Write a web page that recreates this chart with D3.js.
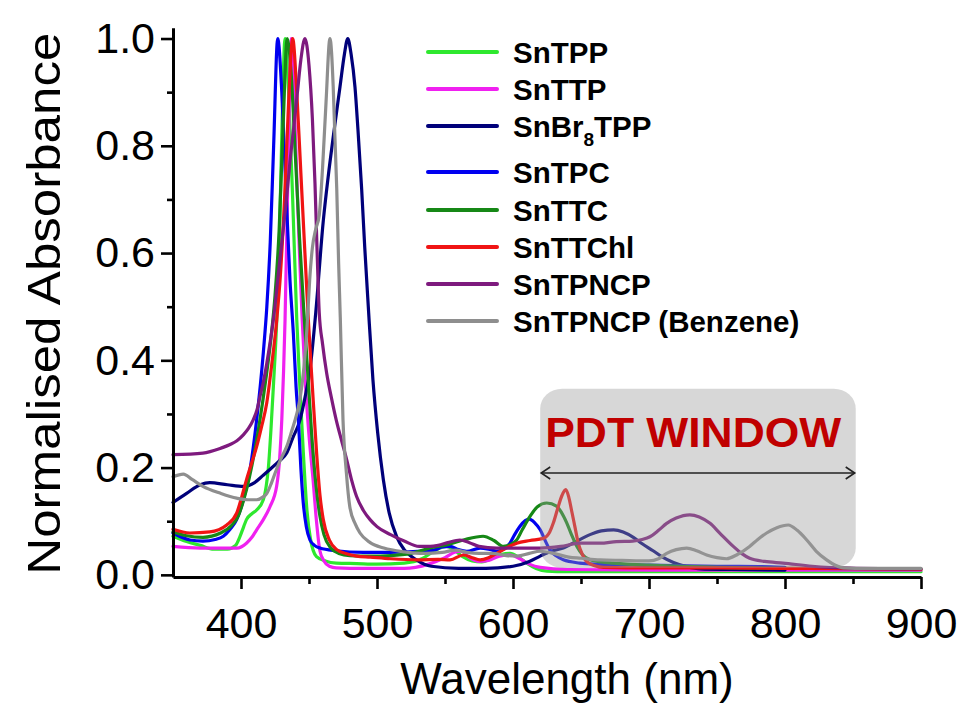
<!DOCTYPE html>
<html>
<head>
<meta charset="utf-8">
<script src="https://cdn.jsdelivr.net/npm/d3@7"></script>
<style>
  html, body { margin: 0; padding: 0; background: #ffffff; }
  svg { display: block; }
</style>
</head>
<body>
<svg id="chart" width="963" height="706"></svg>
<script>
// ---------------- DATA ----------------
const xMajorTicks = [400, 500, 600, 700, 800, 900];
const xMinorTicks = [450, 550, 650, 750, 850];
const yMajorTicks = [0.0, 0.2, 0.4, 0.6, 0.8, 1.0];
const yMinorTicks = [0.1, 0.3, 0.5, 0.7, 0.9];

const seriesNames = ["SnTPP", "SnTTP", "SnBr8TPP", "SnTPC", "SnTTC", "SnTTChl", "SnTPNCP", "SnTPNCP (Benzene)"];
const seriesColors = ["#2ee82e", "#f020f0", "#00007a", "#0000f0", "#168816", "#f01414", "#7e1a7e", "#8e8e8e"];

// [wavelength nm, normalised absorbance]
const snTPP = [[350,.072],[360,.062],[370,.055],[380,.048],[390,.048],[396,.055],[399,.07],[402,.09],[404,.103],[408,.114],[411.5,.121],[416.4,.14],[418.5,.165],[420,.196],[422,.27],[423.8,.351],[426.3,.476],[428,.6],[430,.82],[432.4,1.0],[435,.9],[438,.7],[441,.476],[443.5,.34],[446,.22],[448.5,.12],[451,.068],[455.5,.034],[462,.026],[470,.022],[485,.021],[500,.02],[520,.022],[533,.03],[543,.046],[551,.053],[557,.046],[563,.034],[570,.026],[577,.024],[584,.03],[591,.038],[598,.04],[604,.033],[610,.022],[617,.012],[625,.007],[640,.006],[700,.006],[800,.006],[900,.006]];

const snTTP = [[350,.053],[370,.05],[397,.05],[404,.059],[408,.07],[411.5,.084],[416.4,.103],[421.3,.127],[426.2,.165],[428.5,.22],[430,.29],[431.3,.38],[432.4,.476],[434,.68],[435.5,.88],[437,1.0],[438.5,.93],[440.5,.78],[443,.6],[445,.476],[447.5,.35],[450,.26],[453,.177],[455.5,.1],[458,.045],[461,.026],[465,.016],[470,.013],[490,.012],[520,.012],[538,.02],[550,.032],[557,.042],[562,.044],[568,.032],[575,.025],[582,.027],[590,.035],[598,.037],[605,.03],[612,.02],[620,.014],[640,.01],[700,.009],[800,.009],[900,.009]];

const snBr8TPP = [[350,.135],[360,.152],[370,.168],[377,.172],[390,.168],[402,.165],[410,.172],[416,.185],[421,.196],[428,.212],[433.6,.227],[438,.255],[443.4,.289],[447,.33],[450.7,.382],[455,.49],[460.5,.66],[464,.74],[468,.82],[472.8,.91],[476,.97],[478.5,1.0],[481,.97],[483.8,.91],[486,.83],[488.7,.72],[491,.61],[493.6,.5],[497,.364],[500.5,.265],[504.7,.177],[509,.115],[514.5,.071],[520,.047],[529,.028],[540,.016],[560,.012],[580,.012],[600,.016],[612,.025],[620,.035],[628,.044],[637,.05],[647,.063],[656.6,.075],[665,.082],[674,.084],[681,.08],[688.5,.07],[695,.058],[703,.045],[710,.033],[718,.023],[728,.015],[738,.011],[760,.01],[800,.009]];

const snTPC = [[350,.078],[362.5,.065],[372,.063],[381,.066],[387,.072],[392,.085],[396.8,.103],[401.7,.14],[406.6,.196],[411.5,.289],[416.4,.414],[419,.5],[421.5,.62],[424,.8],[427,1.0],[430,.9],[433,.72],[436,.55],[438.5,.45],[440.5,.35],[442.2,.289],[444,.2],[445.8,.134],[448,.09],[450.7,.065],[454,.055],[458,.05],[470,.045],[490,.042],[510,.042],[530,.044],[543,.047],[548,.052],[553.7,.053],[560,.047],[566,.044],[575.8,.05],[582,.048],[588,.044],[593,.048],[597.8,.059],[601,.074],[605,.09],[609,.101],[612,.104],[616,.097],[620,.084],[624,.062],[627,.047],[632,.035],[637,.028],[649,.022],[660,.02],[700,.018],[750,.016],[790,.015],[800,.014]];

const snTTC = [[350,.08],[360,.073],[372,.07],[385,.078],[393,.092],[398,.11],[402,.14],[406,.18],[410,.23],[414,.29],[418,.36],[422,.44],[425,.52],[428,.64],[431,.84],[434,1.0],[437,.93],[440,.78],[443,.63],[446,.5],[449,.38],[452,.26],[455,.17],[458,.11],[461,.075],[466,.05],[472,.04],[480,.036],[495,.035],[510,.036],[525,.04],[539,.05],[551,.056],[563.5,.065],[578,.072],[586,.064],[593,.053],[598,.056],[602.7,.065],[607,.085],[612.5,.109],[618,.127],[624.8,.134],[632,.128],[639.5,.097],[643,.075],[647,.053],[651,.038],[656.6,.028],[665,.024],[673.8,.022],[700,.018],[750,.014],[800,.012],[900,.011]];

const snTTChl = [[350,.085],[362.5,.078],[377,.08],[389.5,.093],[396.8,.115],[400.5,.145],[404,.177],[408,.21],[411.5,.239],[415,.275],[418.9,.32],[422.5,.39],[426.3,.476],[429,.56],[432,.7],[435,.88],[438,1.0],[441,.9],[444,.75],[447,.6],[449.5,.476],[452.5,.35],[455.6,.227],[458,.15],[460.5,.103],[465,.065],[470.4,.047],[477,.04],[485,.035],[495,.033],[510,.03],[530,.028],[545,.029],[553.7,.028],[563.5,.037],[570,.032],[575.8,.028],[582,.032],[588,.04],[595,.05],[602.7,.059],[612.5,.064],[622.3,.068],[627,.08],[629.7,.097],[633,.125],[636,.148],[638.8,.159],[641,.145],[643,.121],[645.5,.09],[648,.059],[651,.038],[654,.025],[660,.017],[666.5,.014],[700,.013],[750,.013],[800,.012],[830,.012],[900,.01]];

const snTPNCP = [[350,.224],[372,.227],[385,.236],[392,.243],[397,.25],[401.7,.261],[405.5,.273],[409,.289],[412,.31],[414,.333],[416.5,.36],[419,.395],[421.5,.435],[423.8,.476],[427,.55],[430,.62],[433,.69],[436,.77],[439,.84],[441.5,.9],[444,.96],[447,1.0],[450,.95],[452.5,.85],[454.4,.73],[456,.6],[457.5,.49],[460,.43],[463,.376],[466.5,.33],[470,.289],[474,.25],[477.7,.215],[481,.18],[485,.146],[490,.12],[494.9,.103],[500,.09],[510,.075],[520,.063],[531,.053],[539,.053],[545,.055],[552,.06],[561,.065],[568,.06],[575,.053],[588,.05],[600,.05],[620,.05],[635,.053],[649,.059],[664,.059],[676,.062],[688,.063],[695,.066],[700.7,.071],[707,.083],[713,.096],[720,.106],[730,.112],[737,.108],[744.9,.096],[752,.078],[762,.053],[768,.04],[774,.031],[785,.025],[798.5,.022],[820,.016],[848,.0125],[900,.011]];

const snTPNCPBenzene = [[350,.183],[357.6,.188],[364,.178],[372,.165],[385,.152],[396.8,.143],[405,.14],[411.5,.14],[416,.145],[419,.152],[422.5,.172],[426,.196],[430,.22],[433.6,.239],[437.5,.27],[441,.3],[443.5,.33],[446,.38],[448.5,.46],[450.5,.55],[452.5,.61],[455,.645],[457.5,.67],[460,.76],[462.5,.88],[465.4,1.0],[467.8,.91],[469,.82],[470.4,.72],[471.8,.58],[473,.48],[475,.289],[477.5,.19],[480,.127],[484,.095],[487.5,.078],[495,.06],[505,.05],[520,.043],[535,.04],[548,.042],[558,.046],[566,.042],[575,.04],[585,.04],[595,.036],[603,.035],[612,.04],[620,.044],[630,.04],[641,.033],[650,.031],[664,.028],[680,.027],[700,.026],[707,.03],[713,.04],[720,.047],[727.7,.05],[735,.045],[742.4,.037],[750,.032],[757,.03],[765,.038],[774,.053],[780,.066],[786.5,.078],[794,.088],[802.4,.093],[809,.083],[816,.065],[823,.044],[830.6,.028],[837,.018],[843,.013],[860,.012],[900,.012]];

const seriesData = [snTPP, snTTP, snBr8TPP, snTPC, snTTC, snTTChl, snTPNCP, snTPNCPBenzene];

const pdtRange = [620, 852];        // nm
const pdtBoxValues = [0.013, 0.347]; // absorbance extent of shaded window
const pdtLabel = "PDT WINDOW";
const xTitle = "Wavelength (nm)";
const yTitle = "Normalised Absorbance";

// ---------------- CHART ----------------
const FONT = '"Liberation Sans", Arial, Helvetica, sans-serif';
const svg = d3.select("#chart");
svg.append("rect").attr("width", 963).attr("height", 706).attr("fill", "#ffffff");

const x = d3.scaleLinear().domain([350, 900]).range([173, 921]);
const y = d3.scaleLinear().domain([-0.004, 1.02]).range([577, 27.8]);

const line = d3.line()
  .x(d => x(d[0]))
  .y(d => y(d[1]))
  .curve(d3.curveMonotoneX);

const series = seriesNames.map((name, i) => ({ name, color: seriesColors[i], data: seriesData[i] }));

svg.append("g")
  .selectAll("path")
  .data(series)
  .join("path")
  .attr("d", d => line(d.data))
  .attr("fill", "none")
  .attr("stroke", d => d.color)
  .attr("stroke-width", 3.2)
  .attr("stroke-linejoin", "round")
  .attr("stroke-linecap", "round");

// PDT window shading (semi-transparent, over the curves)
const bx0 = x(pdtRange[0]), bx1 = x(pdtRange[1]);
const by0 = y(pdtBoxValues[1]), by1 = y(pdtBoxValues[0]);
svg.append("rect")
  .attr("x", bx0).attr("y", by0)
  .attr("width", bx1 - bx0).attr("height", by1 - by0)
  .attr("rx", 22).attr("ry", 20)
  .attr("fill", "#9c9c9c").attr("fill-opacity", 0.4);

svg.append("text")
  .attr("x", bx0 + 5).attr("y", 447)
  .attr("font-family", FONT).attr("font-weight", "bold")
  .attr("font-size", 42)
  .attr("fill", "#c00000")
  .attr("textLength", 296).attr("lengthAdjust", "spacingAndGlyphs")
  .text(pdtLabel);

// double headed arrow
const ay = 473;
const arrow = svg.append("g").attr("stroke", "#222").attr("stroke-width", 1.6).attr("fill", "none");
arrow.append("line").attr("x1", bx0 + 1).attr("x2", bx1 - 1).attr("y1", ay).attr("y2", ay);
arrow.append("path").attr("d", `M${bx0 + 10},${ay - 6} L${bx0 + 1},${ay} L${bx0 + 10},${ay + 6}`);
arrow.append("path").attr("d", `M${bx1 - 10},${ay - 6} L${bx1 - 1},${ay} L${bx1 - 10},${ay + 6}`);

// ---------------- AXES ----------------
const axisColor = "#000";
const xAxisG = svg.append("g").attr("transform", `translate(0,${y.range()[0]})`);
xAxisG.call(d3.axisBottom(x).tickValues(xMajorTicks).tickSize(12).tickSizeOuter(0).tickPadding(18).tickFormat(d3.format("d")));
const xMinorG = svg.append("g").attr("transform", `translate(0,${y.range()[0]})`);
xMinorG.call(d3.axisBottom(x).tickValues(xMinorTicks).tickSize(7).tickSizeOuter(0).tickFormat(""));
xMinorG.select(".domain").remove();

const yAxisG = svg.append("g").attr("transform", `translate(${x.range()[0]},0)`);
yAxisG.call(d3.axisLeft(y).tickValues(yMajorTicks).tickSize(12).tickSizeOuter(0).tickPadding(6).tickFormat(d3.format(".1f")));
const yMinorG = svg.append("g").attr("transform", `translate(${x.range()[0]},0)`);
yMinorG.call(d3.axisLeft(y).tickValues(yMinorTicks).tickSize(6).tickSizeOuter(0).tickFormat(""));
yMinorG.select(".domain").remove();

[xAxisG, xMinorG, yAxisG, yMinorG].forEach(g => {
  g.selectAll(".domain").attr("stroke", axisColor).attr("stroke-width", 3);
  g.selectAll(".tick line").attr("stroke", axisColor).attr("stroke-width", 2.6);
  g.selectAll(".tick text").attr("font-family", FONT).attr("font-size", 43).attr("fill", "#000");
});

// axis titles
svg.append("text")
  .attr("x", (x.range()[0] + x.range()[1]) / 2 + 20).attr("y", 694)
  .attr("text-anchor", "middle")
  .attr("font-family", FONT).attr("font-size", 44).attr("fill", "#000")
  .text(xTitle);

svg.append("text")
  .attr("transform", `translate(60,${(y(0) + y(1)) / 2 - 3}) rotate(-90)`)
  .attr("text-anchor", "middle")
  .attr("font-family", FONT).attr("font-size", 47).attr("fill", "#000")
  .attr("textLength", 542).attr("lengthAdjust", "spacingAndGlyphs")
  .text(yTitle);

// ---------------- LEGEND ----------------
const legendRowY = [52, 89, 126, 172, 210, 247, 284, 321];
const legend = svg.append("g");
series.forEach((s, i) => {
  const ly = legendRowY[i];
  legend.append("line")
    .attr("x1", 428).attr("x2", 497).attr("y1", ly).attr("y2", ly)
    .attr("stroke", s.color).attr("stroke-width", 4).attr("stroke-linecap", "round");
  const t = legend.append("text")
    .attr("x", 513).attr("y", ly).attr("dy", "0.36em")
    .attr("font-family", FONT).attr("font-weight", "bold").attr("font-size", 29.5).attr("fill", "#000");
  const m = s.name.match(/^(SnBr)(\d+)(TPP)$/);
  if (m) {
    t.append("tspan").text(m[1]);
    t.append("tspan").attr("font-size", 19).attr("dy", 9).text(m[2]);
    t.append("tspan").attr("dy", -9).text(m[3]);
  } else {
    t.text(s.name);
  }
});
</script>
</body>
</html>
